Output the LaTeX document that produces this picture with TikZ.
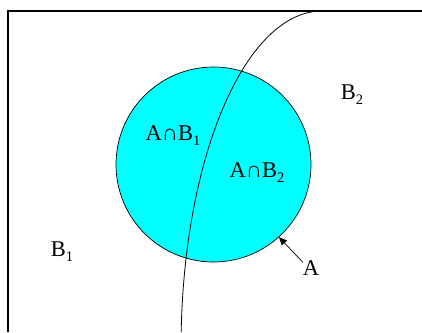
\documentclass[tikz,border=0pt]{standalone}
\usepackage{fontspec}
\setmainfont{Liberation Serif}
\usetikzlibrary{arrows.meta}
\definecolor{fillA}{RGB}{0,255,255}
\newcommand{\lowsub}[1]{\raisebox{-0.22em}{\fontsize{14.5}{14.5}\selectfont #1}}
\tikzset{
  setlbl/.style={inner sep=0pt, font=\fontsize{22.5}{26}\selectfont},
  setA/.style={circle, draw, line width=0.7pt, fill=fillA, minimum size=195pt, inner sep=0pt}
}
\begin{document}
\begin{tikzpicture}[x=1pt,y=-1pt]
\useasboundingbox (0,0) rectangle (422,332);
\draw[line width=1.3pt] (8,332) -- (8,11) -- (422,11);
\node[setA] (circA) at (213.5,164.5) {};
\draw[line width=0.8pt] (322,11) arc[start angle=-90, end angle=-177.3, x radius=141, y radius=337];
\node[setlbl] (lblAB1) at (173,136) {A∩B\lowsub{1}};
\node[setlbl] (lblAB2) at (257,173) {A∩B\lowsub{2}};
\node[setlbl] (lblB2) at (352,95) {B\lowsub{2}};
\node[setlbl] (lblB1) at (62,252) {B\lowsub{1}};
\node[setlbl] (lblA) at (311,268) {A};
\draw[line width=0.7pt, -{Triangle[length=8pt,width=7pt]}] ([xshift=-8pt,yshift=-2pt]lblA.north) -- (circA.-48);
\end{tikzpicture}
\end{document}
